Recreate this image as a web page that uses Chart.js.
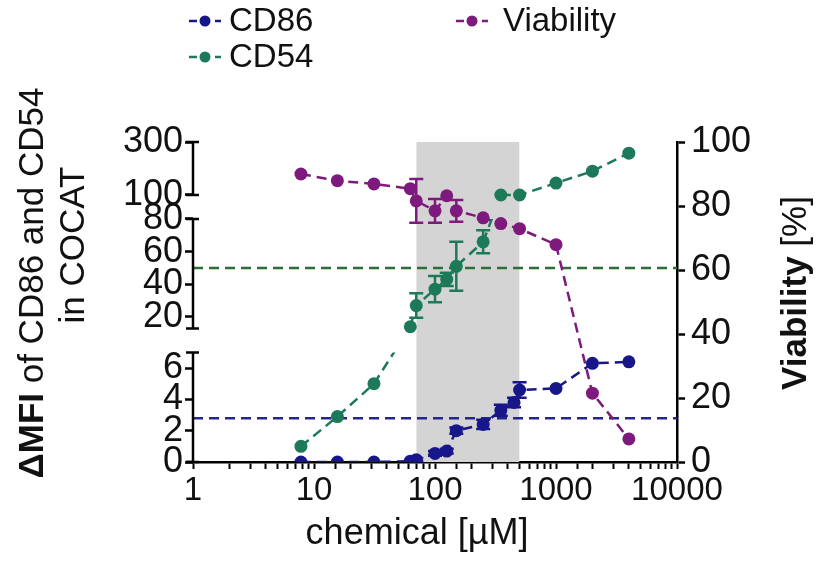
<!DOCTYPE html>
<html>
<head>
<meta charset="utf-8">
<script src="https://cdn.jsdelivr.net/npm/chart.js@4.4.1/dist/chart.umd.min.js"></script>
<style>
  html, body { margin: 0; padding: 0; background: #fff; }
  #wrap { width: 819px; height: 569px; position: relative; }
</style>
</head>
<body>
<div id="wrap"><canvas id="chart" width="819" height="569"></canvas></div>
<script>
// concentrations in µM
const conc = [7.8, 15.6, 31.3, 62.5, 70, 100, 125, 150, 250, 350, 500, 1000, 2000, 4000];

// CD86 (lower axis segment)
const cd86Conc = [7.8, 15.6, 31.3, 62.5, 70, 100, 125, 150, 250, 350, 450, 500, 1000, 2000, 4000];
const cd86Values = [0, 0, 0, 0.05, 0.15, 0.55, 0.7, 2.0, 2.4, 3.3, 3.8, 4.6, 4.7, 6.3, 6.4];
const cd86Err = [0, 0, 0, 0, 0.1, 0.15, 0.15, 0.2, 0.3, 0.35, 0.3, 0.5, 0, 0, 0];

// CD54 is split over the three segments of the broken axis
const cd54LowConc = [7.8, 15.6, 31.3];
const cd54LowValues = [1.0, 2.9, 5.0];
const cd54MidConc = [62.5, 70, 100, 125, 150, 250];
const cd54MidValues = [14, 27, 37, 43, 51, 66];
const cd54MidErr = [0, 7.5, 8, 4, 15, 7];
const cd54HighConc = [350, 500, 1000, 2000, 4000];
const cd54HighValues = [100, 100, 145, 190, 258];

// viability, right axis
const viability = [90, 87.9, 86.9, 85.4, 81.6, 78.5, 83.2, 78.5, 76.3, 74.5, 72.9, 67.9, 21.5, 7.2];
const viabilityErr = [0, 0, 0, 0, 6.8, 3.7, 0, 3.4, 0, 0, 0, 0, 0, 0];

const cd86Threshold = 2.8;
const cd54Threshold = 50;
const bandConc = [70, 500];

// tick labels
const xLabels = [1, 10, 100, 1000, 10000];
const lowTicks = [0, 2, 4, 6];
const midTicks = [20, 40, 60, 80];
const topTicks = [100, 300];
const rightTicks = [0, 20, 40, 60, 80, 100];

// drawn extent of each left axis segment
const lowSeg = [0, 7];
const midSeg = [13, 80];
const topSeg = [100, 300];

const FONT = "'Liberation Sans', Arial, sans-serif";
const C86 = '#17178a';
const C54 = '#1c7a58';
const CVIA = '#7e1a7e';

const pts = (xs, ys) => xs.map((x, i) => ({ x: x, y: ys[i] }));

function lineSet(label, data, axis, color, errors) {
  return {
    label: label,
    data: data,
    yAxisID: axis,
    borderColor: color,
    backgroundColor: color,
    borderWidth: 2.5,
    borderDash: [10, 6],
    pointRadius: 6.5,
    pointBorderWidth: 0,
    tension: 0,
    errors: errors,
    order: 1
  };
}

// left axis segments with end caps
const segAxes = {
  id: 'segAxes',
  afterDraw(chart) {
    const ctx = chart.ctx;
    ctx.save();
    ctx.strokeStyle = '#000';
    ctx.lineWidth = 2.5;
    [['yLow', lowSeg], ['yMid', midSeg], ['yTop', topSeg]].forEach(([id, seg]) => {
      const s = chart.scales[id];
      const x = s.right;
      const y0 = s.getPixelForValue(seg[0]);
      const y1 = s.getPixelForValue(seg[1]);
      ctx.beginPath();
      ctx.moveTo(x, y0); ctx.lineTo(x, y1);
      ctx.moveTo(x - 7, y0); ctx.lineTo(x + 6, y0);
      ctx.moveTo(x - 7, y1); ctx.lineTo(x + 6, y1);
      ctx.stroke();
    });
    // small overhang of the x axis past the left axis
    const xs = chart.scales.x;
    ctx.beginPath();
    ctx.moveTo(xs.left - 7, xs.top);
    ctx.lineTo(xs.left, xs.top);
    ctx.stroke();
    ctx.restore();
  }
};

// error bars
const errorBars = {
  id: 'errorBars',
  afterDatasetDraw(chart, args) {
    const ds = chart.data.datasets[args.index];
    if (!ds.errors) return;
    const meta = args.meta;
    const ys = chart.scales[meta.yAxisID];
    const ctx = chart.ctx;
    ctx.save();
    ctx.strokeStyle = ds.borderColor;
    ctx.lineWidth = 2.5;
    meta.data.forEach((p, i) => {
      const e = ds.errors[i];
      if (!e) return;
      const v = ds.data[i].y;
      const t = ys.getPixelForValue(v + e);
      const b = ys.getPixelForValue(v - e);
      ctx.beginPath();
      ctx.moveTo(p.x, t); ctx.lineTo(p.x, b);
      ctx.moveTo(p.x - 7, t); ctx.lineTo(p.x + 7, t);
      ctx.moveTo(p.x - 7, b); ctx.lineTo(p.x + 7, b);
      ctx.stroke();
    });
    ctx.restore();
  }
};

// dashed joins of CD54 across the axis breaks, clipped to the lower segment
const bridges = {
  id: 'bridges',
  afterDatasetsDraw(chart) {
    const ctx = chart.ctx;
    const area = chart.chartArea;
    const find = lbl => chart.data.datasets.findIndex(d => d.label === lbl);
    [['CD54 low', 'CD54 mid', 'yLow', lowSeg], ['CD54 mid', 'CD54 high', 'yMid', midSeg]].forEach(([a, b, id, seg]) => {
      const ma = chart.getDatasetMeta(find(a)).data;
      const mb = chart.getDatasetMeta(find(b)).data;
      const p0 = ma[ma.length - 1], p1 = mb[0];
      const s = chart.scales[id];
      const top = s.getPixelForValue(seg[1]);
      const bot = s.getPixelForValue(seg[0]);
      ctx.save();
      ctx.beginPath();
      ctx.rect(area.left, top, area.right - area.left, bot - top);
      ctx.clip();
      ctx.strokeStyle = C54;
      ctx.lineWidth = 2.5;
      ctx.setLineDash([10, 6]);
      ctx.beginPath();
      ctx.moveTo(p0.x, p0.y); ctx.lineTo(p1.x, p1.y);
      ctx.stroke();
      ctx.restore();
    });
  }
};

function drawMixed(ctx, parts, cx, cy, rot) {
  ctx.save();
  ctx.translate(cx, cy);
  ctx.rotate(rot);
  ctx.textBaseline = 'middle';
  ctx.textAlign = 'left';
  ctx.fillStyle = '#111';
  let total = 0;
  parts.forEach(p => { ctx.font = p.font; p.w = ctx.measureText(p.text).width; total += p.w; });
  let x = -total / 2;
  parts.forEach(p => { ctx.font = p.font; ctx.fillText(p.text, x, 0); x += p.w; });
  ctx.restore();
}

// axis titles and legend
const labels = {
  id: 'labels',
  afterDraw(chart) {
    const ctx = chart.ctx;
    const bold = 'bold 35px ' + FONT, reg = '35px ' + FONT;
    drawMixed(ctx, [{ text: 'ΔMFI', font: bold }, { text: ' of CD86 and CD54', font: reg }], 33, 283, -Math.PI / 2);
    drawMixed(ctx, [{ text: 'in COCAT', font: reg }], 74, 245, -Math.PI / 2);
    drawMixed(ctx, [{ text: 'Viability', font: bold }, { text: ' [%]', font: reg }], 796, 293, -Math.PI / 2);
    drawMixed(ctx, [{ text: 'chemical [µM]', font: '36px ' + FONT }], 417, 534, 0);

    const items = [
      { label: 'CD86', color: C86, mx: 205, tx: 229, y: 21 },
      { label: 'Viability', color: CVIA, mx: 472, tx: 503, y: 21 },
      { label: 'CD54', color: C54, mx: 205, tx: 229, y: 57 }
    ];
    items.forEach(it => {
      ctx.save();
      ctx.strokeStyle = it.color;
      ctx.fillStyle = it.color;
      ctx.lineWidth = 2.5;
      ctx.setLineDash([8, 5]);
      ctx.beginPath();
      ctx.moveTo(it.mx - 16, it.y); ctx.lineTo(it.mx + 16, it.y);
      ctx.stroke();
      ctx.beginPath();
      ctx.arc(it.mx, it.y, 5.5, 0, Math.PI * 2);
      ctx.fill();
      ctx.fillStyle = '#111';
      ctx.font = '33px ' + FONT;
      ctx.textBaseline = 'middle';
      ctx.fillText(it.label, it.tx, it.y + 1);
      ctx.restore();
    });
  }
};

const tickFont = { family: FONT, size: 36 };
const leftAxis = (weight, min, max, vals) => ({
  type: 'linear',
  position: 'left',
  stack: 'left',
  stackWeight: weight,
  min: min,
  max: max,
  border: { display: false },
  grid: { display: true, drawOnChartArea: false, drawTicks: true, tickLength: 8, tickColor: '#000', tickWidth: 2.5 },
  ticks: { autoSkip: false, color: '#111', font: tickFont, padding: 2 },
  afterBuildTicks: s => { s.ticks = vals.map(v => ({ value: v })); },
  afterFit: s => { s.width = 193; }
});

new Chart(document.getElementById('chart'), {
  type: 'line',
  data: {
    datasets: [
      {
        label: 'band',
        data: pts(bandConc, [100, 100]),
        yAxisID: 'yR',
        fill: 'start',
        backgroundColor: '#d4d4d4',
        borderWidth: 0,
        pointRadius: 0,
        order: 10
      },
      {
        label: 'CD86 threshold',
        data: pts([1, 10000], [cd86Threshold, cd86Threshold]),
        yAxisID: 'yLow',
        borderColor: '#25258a',
        borderWidth: 2.5,
        borderDash: [10, 6],
        pointRadius: 0,
        order: 5
      },
      {
        label: 'CD54 threshold',
        data: pts([1, 10000], [cd54Threshold, cd54Threshold]),
        yAxisID: 'yMid',
        borderColor: '#2c6e34',
        borderWidth: 2.5,
        borderDash: [10, 6],
        pointRadius: 0,
        order: 5
      },
      lineSet('CD86', pts(cd86Conc, cd86Values), 'yLow', C86, cd86Err),
      lineSet('CD54 low', pts(cd54LowConc, cd54LowValues), 'yLow', C54),
      lineSet('CD54 mid', pts(cd54MidConc, cd54MidValues), 'yMid', C54, cd54MidErr),
      lineSet('CD54 high', pts(cd54HighConc, cd54HighValues), 'yTop', C54),
      lineSet('Viability', pts(conc, viability), 'yR', CVIA, viabilityErr)
    ]
  },
  options: {
    responsive: false,
    animation: false,
    events: [],
    layout: { padding: { top: 142, left: 0, right: 0, bottom: 0 } },
    plugins: { legend: { display: false }, tooltip: { enabled: false } },
    scales: {
      x: {
        type: 'logarithmic',
        position: 'bottom',
        min: 1,
        max: 10000,
        border: { display: true, color: '#000', width: 2.5 },
        grid: { display: true, drawOnChartArea: false, drawTicks: true, tickLength: 7, tickColor: '#000', tickWidth: 2 },
        ticks: {
          autoSkip: false,
          maxRotation: 0,
          color: '#111',
          font: { family: FONT, size: 33 },
          padding: 2,
          callback: v => xLabels.includes(v) ? String(v) : ''
        },
        afterFit: s => { s.height = 107; }
      },
      yLow: leftAxis(121.5, 0, 7.76, lowTicks),
      yMid: leftAxis(133.5, 5.6, 87.3, midTicks),
      yTop: leftAxis(65, 54.7, 300, topTicks),
      yR: {
        type: 'linear',
        position: 'right',
        min: 0,
        max: 100,
        border: { display: true, color: '#000', width: 2.5 },
        grid: { display: true, drawOnChartArea: false, drawTicks: true, tickLength: 8, tickColor: '#000', tickWidth: 2.5 },
        ticks: { autoSkip: false, color: '#111', font: tickFont, padding: 6 },
        afterBuildTicks: s => { s.ticks = rightTicks.map(v => ({ value: v })); },
        afterFit: s => { s.width = 142; }
      }
    }
  },
  plugins: [segAxes, errorBars, bridges, labels]
});
</script>
</body>
</html>
